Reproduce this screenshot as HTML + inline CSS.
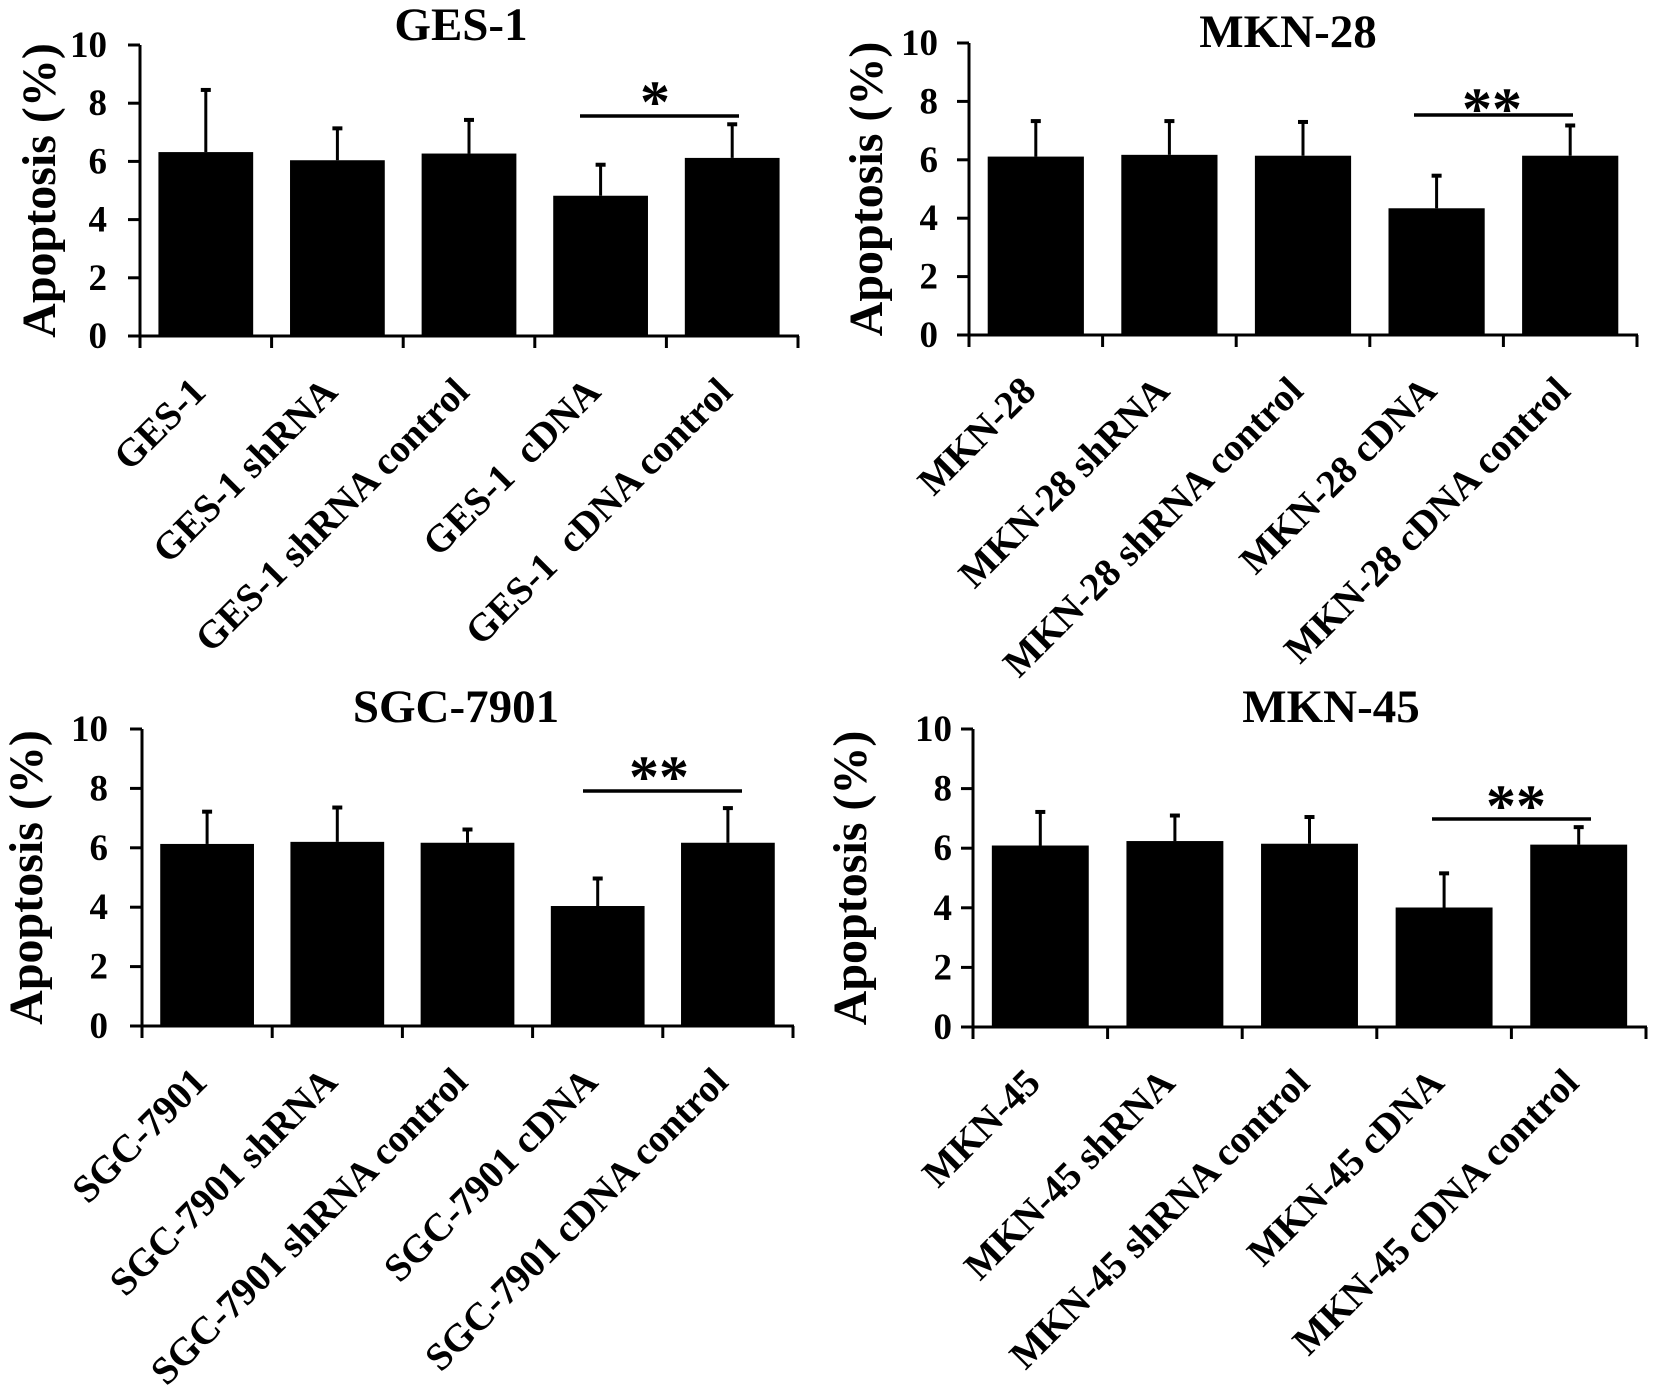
<!DOCTYPE html>
<html><head><meta charset="utf-8"><style>
html,body{margin:0;padding:0;background:#fff;}
svg{display:block;font-family:"Liberation Serif",serif;font-weight:bold;}
</style></head><body>
<svg id="fig" width="1654" height="1386" viewBox="0 0 1654 1386" xmlns="http://www.w3.org/2000/svg"></svg>
<script>
const NS="http://www.w3.org/2000/svg";
const yTicks=[0,2,4,6,8,10];
const gesLabels=["GES-1","GES-1 shRNA","GES-1 shRNA control","GES-1\u00a0 cDNA","GES-1\u00a0 cDNA control"];
const gesValues=[6.32,6.04,6.27,4.82,6.12];
const gesErrors=[2.17,1.13,1.19,1.10,1.19];
const mkn28Labels=["MKN-28","MKN-28 shRNA","MKN-28 shRNA control","MKN-28 cDNA","MKN-28 cDNA control"];
const mkn28Values=[6.11,6.17,6.14,4.34,6.14];
const mkn28Errors=[1.25,1.19,1.19,1.15,1.07];
const sgcLabels=["SGC-7901","SGC-7901 shRNA","SGC-7901 shRNA control","SGC-7901 cDNA","SGC-7901 cDNA control"];
const sgcValues=[6.13,6.20,6.17,4.04,6.17];
const sgcErrors=[1.12,1.19,0.48,0.96,1.20];
const mkn45Labels=["MKN-45","MKN-45 shRNA","MKN-45 shRNA control","MKN-45 cDNA","MKN-45 cDNA control"];
const mkn45Values=[6.09,6.24,6.15,4.01,6.12];
const mkn45Errors=[1.16,0.89,0.93,1.18,0.62];

const svg=document.getElementById('fig');
function el(tag,attrs,parent){const e=document.createElementNS(NS,tag);for(const k in attrs)e.setAttribute(k,attrs[k]);(parent||svg).appendChild(e);return e;}

function panel(cfg){
  const g=el('g',{});
  
  
  const n=cfg.labels.length, cw=(cfg.xend-cfg.ax)/n;
  const yS=v=>cfg.y0-(v/10)*(cfg.y0-cfg.y10);
  const xC=i=>cfg.ax+cw*(i+0.5);
  const t=el('text',{x:cfg.tx,y:cfg.ty,'text-anchor':'middle','font-size':47},g);
  t.textContent=cfg.title;
  
  
  const ym=(cfg.y0+cfg.y10)/2;
  const yt=el('text',{x:0,y:0,'text-anchor':'middle','font-size':48,transform:`translate(${cfg.ytx+15},${ym}) rotate(-90)`},g);
  yt.textContent='Apoptosis (%)';
  
  
  cfg.values.forEach((v,i)=>{
    const bw=cw*0.72, x=xC(i)-bw/2, top=yS(v);
    const r=el('rect',{x:x,y:top,width:bw,height:cfg.y0-top,fill:'#000'},g);
    
    
    const et=yS(v+cfg.errors[i]);
    const eb=el('line',{x1:xC(i),x2:xC(i),y1:top,y2:et,stroke:'#000','stroke-width':3},g);
    
    
    const cap=el('line',{x1:xC(i)-5,x2:xC(i)+5,y1:et+1,y2:et+1,stroke:'#000','stroke-width':4},g);
    
    
    const lb=el('text',{x:0,y:0,'text-anchor':'end','font-size':39,transform:`translate(${xC(i)+2},${cfg.y0+58}) rotate(-45)`},g);
    lb.textContent=cfg.labels[i];
    
    
  });
  const ya=el('line',{x1:cfg.ax,x2:cfg.ax,y1:cfg.y10,y2:cfg.y0,stroke:'#000','stroke-width':3},g);
  
  
  const xa=el('line',{x1:cfg.ax-12,x2:cfg.xend+1,y1:cfg.y0,y2:cfg.y0,stroke:'#000','stroke-width':3},g);
  
  
  yTicks.forEach(v=>{
    el('line',{x1:cfg.ax-12,x2:cfg.ax,y1:yS(v),y2:yS(v),stroke:'#000','stroke-width':3},g);
    const tl=el('text',{x:cfg.ax-cfg.lo,y:yS(v)+12,'text-anchor':'end','font-size':37},g);
    tl.textContent=String(v);
    
    
  });
  for(let i=0;i<=n;i++){
    el('line',{x1:cfg.ax+cw*i,x2:cfg.ax+cw*i,y1:cfg.y0,y2:cfg.y0+12,stroke:'#000','stroke-width':3},g);
  }
  const sl=el('line',{x1:cfg.sx1,x2:cfg.sx2,y1:cfg.sy,y2:cfg.sy,stroke:'#000','stroke-width':3.5},g);
  
  
  const st=el('text',{x:cfg.stx,y:cfg.sty+29,'text-anchor':'middle','font-size':60},g);
  st.textContent=cfg.stars;
  
  
}

panel({name:'ges-1',title:'GES-1',labels:gesLabels,values:gesValues,errors:gesErrors,ax:140,y0:336,y10:45,xend:798,tx:461,ty:40,ytx:40,lo:33,sx1:580,sx2:739,sy:116,stx:655,sty:93,stars:'*'});
panel({name:'mkn-28',title:'MKN-28',labels:mkn28Labels,values:mkn28Values,errors:mkn28Errors,ax:969,y0:335,y10:43,xend:1637,tx:1288,ty:47,ytx:867,lo:31,sx1:1414,sx2:1573,sy:115,stx:1492,sty:100,stars:'**'});
panel({name:'sgc-7901',title:'SGC-7901',labels:sgcLabels,values:sgcValues,errors:sgcErrors,ax:142,y0:1026,y10:729,xend:793,tx:456,ty:722,ytx:27,lo:34,sx1:583,sx2:742,sy:791,stx:659,sty:768,stars:'**'});
panel({name:'mkn-45',title:'MKN-45',labels:mkn45Labels,values:mkn45Values,errors:mkn45Errors,ax:973,y0:1027,y10:729,xend:1646,tx:1331,ty:722,ytx:851,lo:21,sx1:1432,sx2:1591,sy:819,stx:1516,sty:797,stars:'**'});
</script>
</body></html>
